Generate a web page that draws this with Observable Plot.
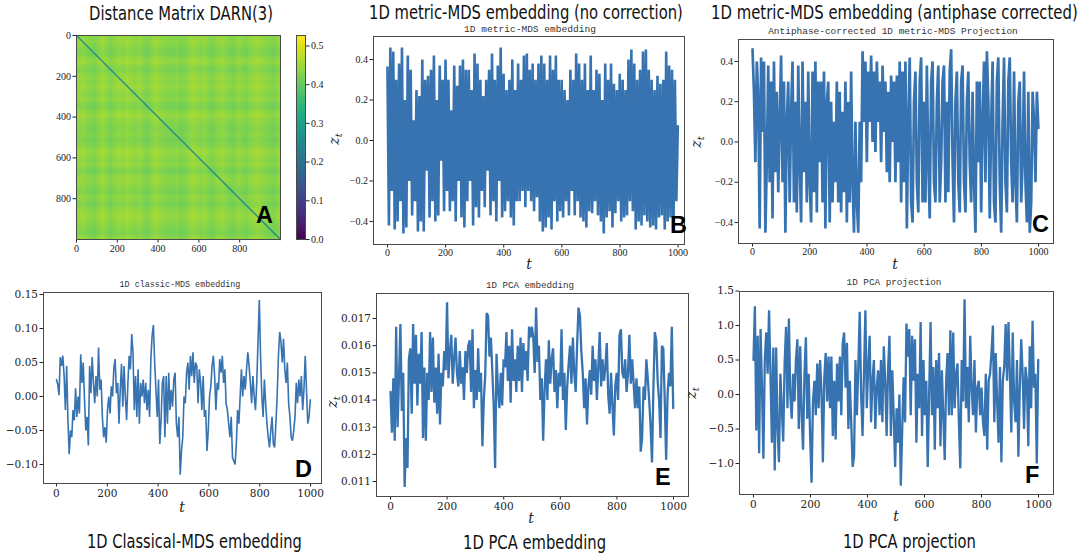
<!DOCTYPE html>
<html>
<head>
<meta charset="utf-8">
<script src="https://cdn.jsdelivr.net/npm/d3@7"></script>
<script src="https://cdn.jsdelivr.net/npm/@observablehq/plot@0.6"></script>
<style>
  html, body { margin: 0; padding: 0; background: #fff; }
  #page { position: relative; width: 1083px; height: 553px; overflow: hidden; background: #fff; }
  .panel { position: absolute; }
  #overlay { position: absolute; left: 0; top: 0; pointer-events: none; }
</style>
</head>
<body>
<div id="page"></div>
<script>
// ---------------- DATA ----------------
// Panel A: distance-matrix banding profile (one value per 20 time indices)
const distProfile = [0.44,0.45,0.43,0.42,0.41,0.44,0.46,0.43,0.41,0.44,
  0.45,0.44,0.46,0.44,0.43,0.45,0.42,0.41,0.44,0.46,
  0.44,0.43,0.42,0.42,0.43,0.41,0.42,0.44,0.46,0.45,
  0.43,0.45,0.42,0.41,0.44,0.45,0.44,0.42,0.41,0.44,
  0.43,0.41,0.44,0.45,0.46,0.44,0.43,0.42,0.41,0.44];
const diagValue = 0.25;
const diagEnds = [0, 1000];
const colorbarTicks = [0, 0.1, 0.2, 0.3, 0.4, 0.5];
const matrixTicks = [0, 200, 400, 600, 800];
const timeTicks = [0, 200, 400, 600, 800, 1000];

// Panel B: 1D metric-MDS embedding (no correction)
const zB = [0.36,-0.42,0.46,-0.25,0.44, -0.44,0.30,-0.40,0.38,-0.30,
  0.46,-0.46,0.20,-0.43,0.42, -0.20,0.35,-0.37,0.10,-0.30,
  0.25,-0.45,0.22,-0.40,0.40, -0.45,0.30,-0.15,0.32,-0.38,
  0.35,-0.30,0.42,-0.40,0.20, -0.37,0.37,-0.10,0.30,-0.35,
  0.40,-0.25,0.30,-0.35,0.15, -0.30,0.37,-0.40,0.27,-0.20,
  0.37,-0.38,0.40,-0.43,0.35, -0.30,0.35,-0.20,0.25,-0.42,
  0.43,-0.33,0.38,-0.38,0.30, -0.25,0.22,-0.33,0.30,-0.15,
  0.35,-0.37,0.43,-0.30,0.30, -0.40,0.37,-0.20,0.46,-0.38,
  0.33,-0.35,0.25,-0.30,0.30, -0.38,0.40,-0.42,0.25,-0.30,
  0.38,-0.30,0.30,-0.25,0.42, -0.33,0.43,-0.25,0.35,-0.30,
  0.38,-0.35,0.30,-0.28,0.38, -0.40,0.42,-0.45,0.38,-0.43,
  0.30,-0.38,0.42,-0.44,0.35, -0.30,0.42,-0.40,0.30,-0.35,
  0.30,-0.38,0.25,-0.30,0.20, -0.37,0.35,-0.25,0.30,-0.37,
  0.43,-0.30,0.38,-0.38,0.30, -0.40,0.38,-0.43,0.25,-0.35,
  0.42,-0.36,0.25,-0.30,0.35, -0.37,0.33,-0.40,0.20,-0.46,
  0.38,-0.38,0.30,-0.35,0.38, -0.43,0.28,-0.36,0.25,-0.30,
  0.33,-0.40,0.30,-0.38,0.25, -0.37,0.40,-0.30,0.45,-0.35,
  0.38,-0.44,0.30,-0.40,0.35, -0.42,0.44,-0.37,0.45,-0.40,
  0.35,-0.43,0.30,-0.42,0.25, -0.44,0.32,-0.38,0.28,-0.37,
  0.30,-0.44,0.44,-0.40,0.37, -0.38,0.35,-0.43,0.30,-0.30, 0.07];

// Panel C: antiphase-corrected 1D metric-MDS projection
const zC = [0.46,0.25,-0.10,0.40,0.23, -0.43,0.42,0.05,0.40,-0.45,
  -0.10,0.38,-0.20,0.30,-0.38, 0.40,-0.15,0.25,-0.25,0.10,
  0.43,-0.20,0.30,-0.45,0.10, 0.30,-0.30,0.15,0.40,-0.30,
  0.20,-0.35,0.38,-0.10,-0.40, 0.40,-0.15,0.20,-0.30,0.35,
  -0.20,-0.40,0.35,-0.25,0.40, -0.35,0.30,-0.10,0.30,-0.30,
  0.35,-0.43,0.20,0.30,-0.40, 0.20,-0.30,0.10,-0.20,0.30,
  -0.30,0.25,-0.35,0.15,-0.25, 0.30,-0.40,0.20,-0.30,0.35,
  -0.20,-0.45,0.10,-0.30,-0.45, 0.10,-0.20,0.45,0.10,0.40,
  -0.10,0.35,0.10,0.43,0.00, 0.35,-0.05,0.40,0.10,0.30,
  -0.10,0.38,0.05,0.30,-0.15, 0.25,-0.20,0.33,0.00,0.30,
  -0.20,0.33,-0.10,0.40,-0.30, 0.35,-0.20,0.40,-0.43,0.10,
  0.42,-0.30,-0.40,0.20,0.35, -0.20,-0.35,0.30,0.42,-0.30,
  0.20,-0.30,0.38,-0.10,-0.38, 0.30,0.40,-0.20,-0.30,0.20,
  0.38,-0.30,-0.10,0.30,0.38, -0.30,0.20,-0.25,0.35,0.46,
  -0.10,-0.40,0.20,0.35,-0.20, -0.35,0.30,0.38,-0.20,-0.35,
  0.20,0.35,-0.10,-0.30,0.25, -0.20,-0.45,0.30,-0.10,0.30,
  -0.35,0.10,0.40,-0.20,0.45, 0.20,-0.38,0.10,0.40,-0.30,
  -0.40,0.30,0.42,-0.20,-0.45, 0.10,0.42,-0.20,-0.35,0.30,
  0.42,-0.10,-0.30,0.35,-0.20, -0.40,0.20,0.30,-0.30,-0.10,
  0.35,-0.20,-0.40,0.25,-0.45, -0.30,0.25,0.10,-0.20,0.25, 0.07];

// Panel D: 1D classic-MDS embedding
const zD = [0.025,0.018,0.002,0.058,0.045,0.06,0.03,-0.02,0.045,-0.035,
  -0.085,-0.05,-0.06,-0.02,-0.035,0.012,-0.03,0.0,-0.025,0.062,
  0.02,0.05,-0.005,-0.05,-0.03,-0.072,0.045,0.005,0.058,0.02,
  -0.01,0.03,0.0,0.072,0.01,0.025,-0.03,-0.06,-0.045,-0.068,
  -0.02,0.0,-0.025,0.015,0.0,0.042,0.055,0.005,0.02,-0.04,
  0.01,0.048,-0.015,0.045,0.0,-0.035,0.02,0.06,0.04,0.092,
  0.065,-0.02,0.03,-0.03,0.04,-0.04,0.02,0.0,0.025,-0.01,
  0.02,-0.02,0.01,-0.03,0.055,0.09,0.105,0.05,0.01,-0.03,
  0.025,-0.07,-0.035,0.02,0.03,-0.06,0.03,-0.04,0.035,-0.02,
  0.01,-0.015,0.025,0.035,-0.04,-0.06,-0.03,-0.115,-0.08,-0.06,
  0.0,-0.01,0.035,0.05,0.01,0.06,0.03,0.065,0.02,0.05,
  0.045,-0.01,0.04,0.02,-0.02,0.03,-0.03,-0.02,-0.08,-0.05,
  0.0,0.015,0.045,0.06,0.03,-0.02,0.02,0.01,0.055,0.035,
  0.06,0.02,0.04,-0.01,-0.02,-0.04,-0.06,-0.03,-0.09,-0.095,
  -0.1,-0.07,-0.02,-0.04,0.0,0.04,0.0,0.03,0.01,0.04,
  0.065,0.045,0.02,-0.01,0.03,0.0,-0.02,0.02,0.08,0.142,
  0.06,0.0,-0.03,0.025,-0.01,-0.04,-0.06,-0.075,-0.05,-0.03,
  -0.07,-0.075,-0.04,0.0,0.06,0.095,0.08,0.05,0.085,0.04,
  0.02,0.05,-0.01,-0.03,-0.06,-0.065,-0.05,-0.03,0.02,-0.01,
  0.025,0.0,0.03,-0.02,0.01,0.06,0.01,-0.04,-0.03,-0.005];

// Panel E: 1D PCA embedding
const zE = [0.0143,0.0128,0.0148,0.0125,0.0167,0.0130,0.0148,0.0168,0.0136,0.0150,
  0.0108,0.0126,0.0115,0.0155,0.0159,0.0135,0.0168,0.0146,0.0164,0.0138,
  0.0157,0.0146,0.0165,0.0126,0.0152,0.0125,0.0150,0.0140,0.0165,0.0143,
  0.0163,0.0139,0.0152,0.0135,0.0157,0.0131,0.0150,0.0145,0.0158,0.0151,
  0.0176,0.0148,0.0158,0.0164,0.0146,0.0155,0.0163,0.0150,0.0145,0.0158,
  0.0146,0.0152,0.0140,0.0158,0.0150,0.0160,0.0162,0.0143,0.0166,0.0137,
  0.0151,0.0140,0.0159,0.0143,0.0150,0.0123,0.0140,0.0149,0.0172,0.0171,
  0.0156,0.0163,0.0151,0.0138,0.0115,0.0157,0.0144,0.0137,0.0150,0.0138,
  0.0155,0.0152,0.0165,0.0147,0.0160,0.0139,0.0166,0.0147,0.0155,0.0143,
  0.0160,0.0147,0.0163,0.0143,0.0161,0.0151,0.0158,0.0147,0.0167,0.0163,
  0.0167,0.0163,0.0150,0.0174,0.0154,0.0160,0.0140,0.0148,0.0125,0.0144,
  0.0155,0.0140,0.0162,0.0146,0.0155,0.0159,0.0143,0.0151,0.0137,0.0150,
  0.0145,0.0166,0.0140,0.0150,0.0129,0.0145,0.0153,0.0160,0.0146,0.0163,
  0.0150,0.0143,0.0160,0.0174,0.0171,0.0158,0.0150,0.0137,0.0148,0.0131,
  0.0145,0.0151,0.0142,0.0160,0.0147,0.0155,0.0140,0.0152,0.0165,0.0145,
  0.0155,0.0147,0.0152,0.0161,0.0142,0.0135,0.0150,0.0138,0.0127,0.0145,
  0.0150,0.0140,0.0164,0.0166,0.0150,0.0148,0.0155,0.0143,0.0150,0.0164,
  0.0146,0.0155,0.0146,0.0137,0.0148,0.0137,0.0145,0.0121,0.0126,0.0145,
  0.0140,0.0155,0.0148,0.0140,0.0130,0.0117,0.0145,0.0165,0.0162,0.0147,
  0.0140,0.0126,0.0160,0.0159,0.0140,0.0118,0.0142,0.0150,0.0145,0.0167, 0.0137];

// Panel F: 1D PCA projection
const zF = [0.5,1.28,-0.52,0.85,-0.85,0.95,0.1,-0.93,0.5,0.9,
  0.3,1.22,0.3,-0.7,0.68,-1.1,0.68,-0.5,-0.98,0.3,
  -0.2,-0.68,0.45,0.98,-0.2,1.1,0.0,-0.35,0.3,-0.1,
  0.5,0.8,-0.5,0.7,-0.3,-0.8,0.3,0.83,-0.35,0.3,
  -0.6,-1.28,-0.1,0.2,-0.3,0.45,-0.2,0.5,0.05,-0.98,
  0.25,0.6,-0.1,0.55,-0.2,0.55,-0.6,0.2,-0.65,0.45,
  -0.1,0.55,-0.3,0.75,0.9,0.1,0.75,-0.5,0.2,-0.4,
  -1.05,-0.9,0.5,-0.3,0.4,1.2,0.0,-0.6,0.3,1.22,
  -0.2,0.4,0.85,-0.4,0.2,0.5,-0.5,0.1,0.35,-0.3,
  0.5,-0.4,0.7,0.2,-0.6,0.35,0.85,-0.6,0.35,-0.3,
  -1.05,-0.2,-0.7,0.0,-1.32,-0.5,0.25,-0.4,1.03,0.55,
  0.95,-0.3,0.85,0.2,0.8,-0.7,0.3,-0.2,1.05,-0.6,
  0.5,-0.3,0.2,-1.05,0.0,1.05,-0.3,0.4,-0.8,0.5,
  -0.2,0.6,-0.75,0.35,-0.3,-0.95,0.2,0.6,-0.3,0.93,
  -0.3,0.9,-0.2,0.3,0.45,-0.4,-1.07,0.5,-0.1,1.38,
  -0.2,0.4,-0.4,0.85,0.1,-0.3,0.5,-0.55,0.1,0.2,
  -0.3,0.1,-0.4,-0.6,0.3,-0.8,0.2,0.3,0.6,1.0,
  -0.4,0.6,-0.1,-0.7,0.4,-0.98,0.2,0.4,1.02,0.2,
  1.05,0.3,-0.55,0.9,-0.1,-0.4,0.5,-0.9,0.1,0.8,
  0.3,-0.5,0.4,0.2,-0.75,0.7,-0.2,1.07,0.1,0.3, -1.0,0.5];

// ---------------- RENDERING ----------------
const LINE = "#3673b0";
const FRAME = "#4a4a4a";
const page = document.getElementById("page");

function place(svg, left, top, width) {
  const div = document.createElement("div");
  div.className = "panel";
  div.style.left = left + "px";
  div.style.top = top + "px";
  div.style.width = width + "px";
  div.appendChild(svg);
  page.appendChild(div);
}

function series(values) {
  const n = values.length;
  return values.map((z, i) => ({t: i * 999 / (n - 1), z}));
}

function linePanel(values, o) {
  const svg = Plot.plot({
    width: o.width, height: o.height,
    marginLeft: o.ml, marginTop: 10, marginRight: 6, marginBottom: o.mb,
    style: {fontFamily: o.font, fontSize: o.fs + "px", color: "#222", background: "transparent", overflow: "visible"},
    x: {domain: o.xdom, ticks: timeTicks, tickFormat: "d", tickSize: 3.5, tickPadding: o.tp, label: null},
    y: {domain: o.ydom, ticks: o.yticks, tickFormat: o.fmt, tickSize: 3.5, tickPadding: 2, label: null},
    marks: [
      Plot.line(series(values), {x: "t", y: "z", stroke: LINE, strokeWidth: o.sw, strokeLinejoin: "miter", strokeMiterlimit: 2}),
      Plot.frame({stroke: FRAME, strokeWidth: 1})
    ]
  });
  place(svg, o.left, o.top, o.width);
}

// Panel A: heatmap
const n = distProfile.length;
const matrix = [];
for (let i = 0; i < n; i++) for (let j = 0; j < n; j++) matrix.push((distProfile[i] + distProfile[j]) / 2);
const colorDomain = [0, 0.527];

const heat = Plot.plot({
  width: 250, height: 235, marginLeft: 40, marginTop: 10, marginRight: 6, marginBottom: 21,
  style: {fontFamily: "Liberation Serif, serif", fontSize: "10px", color: "#222", background: "transparent", overflow: "visible"},
  x: {domain: [0, 1000], ticks: matrixTicks, tickFormat: "d", tickSize: 3.5, tickPadding: 2, label: null},
  y: {domain: [0, 1000], reverse: true, ticks: matrixTicks, tickFormat: "d", tickSize: 3.5, tickPadding: 2, label: null},
  color: {type: "linear", scheme: "viridis", domain: colorDomain},
  marks: [
    Plot.raster(matrix, {width: n, height: n, x1: 0, y1: 0, x2: 1000, y2: 1000, fill: Plot.identity}),
    Plot.line(diagEnds, {x: d => d, y: d => d, stroke: () => diagValue, strokeWidth: 1.3}),
    Plot.frame({stroke: FRAME})
  ]
});
place(heat, 36, 25, 250);

const cbar = Plot.plot({
  width: 50, height: 235, marginLeft: 6, marginTop: 10, marginRight: 35, marginBottom: 21,
  style: {fontFamily: "Liberation Serif, serif", fontSize: "10px", color: "#222", background: "transparent", overflow: "visible"},
  x: {domain: [0, 1], axis: null},
  y: {domain: colorDomain, axis: "right", ticks: colorbarTicks, tickFormat: ".1f", tickSize: 3.5, tickPadding: 2, label: null},
  color: {type: "linear", scheme: "viridis", domain: colorDomain},
  marks: [
    Plot.raster({x1: 0, x2: 1, y1: colorDomain[0], y2: colorDomain[1], fill: (x, y) => y, pixelSize: 1}),
    Plot.frame({stroke: FRAME})
  ]
});
place(cbar, 290, 25, 50);

const topFont = "Liberation Serif, serif";
const botFont = "DejaVu Serif, serif";

linePanel(zB, {left: 330, top: 26, width: 360, height: 242, ml: 43, mb: 24, xdom: [-48, 1022], ydom: [-0.514, 0.514],
  yticks: [-0.4, -0.2, 0, 0.2, 0.4], fmt: ".1f", font: topFont, fs: 10, tp: 1, sw: 2.6});
linePanel(zC, {left: 690, top: 29, width: 369, height: 238, ml: 48, mb: 24, xdom: [-49, 1052], ydom: [-0.504, 0.509],
  yticks: [-0.4, -0.2, 0, 0.2, 0.4], fmt: ".1f", font: topFont, fs: 10, tp: 1, sw: 2.7});
linePanel(zD, {left: 0, top: 282, width: 327, height: 229, ml: 43, mb: 28, xdom: [-51, 1043], ydom: [-0.128, 0.153],
  yticks: [-0.10, -0.05, 0, 0.05, 0.10, 0.15], fmt: ".2f", font: botFont, fs: 10.5, tp: 3, sw: 1.6});
linePanel(zE, {left: 330, top: 283, width: 364, height: 241, ml: 46, mb: 28, xdom: [-49.5, 1053], ydom: [0.01045, 0.01792],
  yticks: [0.011, 0.012, 0.013, 0.014, 0.015, 0.016, 0.017], fmt: ".3f", font: botFont, fs: 10.5, tp: 3, sw: 2.3});
linePanel(zF, {left: 690, top: 281, width: 369, height: 241, ml: 49, mb: 28, xdom: [-49, 1052.6], ydom: [-1.449, 1.493],
  yticks: [-1, -0.5, 0, 0.5, 1, 1.5], fmt: ".1f", font: botFont, fs: 10.5, tp: 3, sw: 2.3});

// ---------------- TEXT OVERLAY ----------------
const titles = [
  {text: "Distance Matrix DARN(3)", x: 89, y: 20, len: 184},
  {text: "1D metric-MDS embedding (no correction)", x: 369, y: 19.2, len: 314},
  {text: "1D metric-MDS embedding (antiphase corrected)", x: 711, y: 19.2, len: 367},
  {text: "1D Classical-MDS embedding", x: 87, y: 548, len: 215},
  {text: "1D PCA embedding", x: 463, y: 549, len: 143},
  {text: "1D PCA projection", x: 843, y: 548, len: 133}
];
const subtitles = [
  {text: "1D metric-MDS embedding", x: 530, y: 32, len: 132},
  {text: "Antiphase-corrected 1D metric-MDS Projection", x: 893, y: 33.5, len: 250},
  {text: "1D classic-MDS embedding", x: 180, y: 287, len: 121},
  {text: "1D PCA embedding", x: 530, y: 288, len: 88},
  {text: "1D PCA projection", x: 894, y: 285, len: 95}
];
const tLabels = [{x: 529, y: 269}, {x: 895, y: 269}, {x: 182, y: 512}, {x: 531, y: 523}, {x: 896, y: 521}];
const zLabels = [{x: 339, y: 139}, {x: 701, y: 142}, {x: 337, y: 402}, {x: 696, y: 393}];
const letters = [
  {text: "A", x: 256, y: 223}, {text: "B", x: 670, y: 233}, {text: "C", x: 1032, y: 232},
  {text: "D", x: 295, y: 477}, {text: "E", x: 655, y: 485}, {text: "F", x: 1025, y: 483}
];

const ov = d3.select(page).append("svg").attr("id", "overlay").attr("width", 1083).attr("height", 553);
// big titles: measured natural width, then squeezed horizontally to the reference width
ov.selectAll("text.title").data(titles).join("text").attr("class", "title")
  .attr("x", 0).attr("y", 0)
  .attr("font-family", "'DejaVu Sans Condensed', 'Liberation Sans Narrow', 'Open Sans', sans-serif")
  .attr("font-size", 20).attr("fill", "#111").text(d => d.text)
  .each(function(d) {
    const w = this.getComputedTextLength();
    d3.select(this).attr("transform", `translate(${d.x},${d.y}) scale(${d.len / w},1)`);
  });
ov.selectAll("text.sub").data(subtitles).join("text").attr("class", "sub")
  .attr("x", d => d.x).attr("y", d => d.y).attr("text-anchor", "middle")
  .attr("font-family", "'Liberation Mono', 'DejaVu Sans Mono', monospace")
  .attr("font-size", d => d.len / (d.text.length * 0.6)).attr("fill", "#333").text(d => d.text);
ov.selectAll("text.t").data(tLabels).join("text").attr("class", "t")
  .attr("x", d => d.x).attr("y", d => d.y).attr("text-anchor", "middle")
  .attr("font-family", "'DejaVu Serif', serif").attr("font-style", "italic")
  .attr("font-size", 14).attr("fill", "#222").text("t");
const zl = ov.selectAll("text.z").data(zLabels).join("text").attr("class", "z")
  .attr("transform", d => `translate(${d.x},${d.y}) rotate(-90)`).attr("text-anchor", "middle")
  .attr("font-family", "'DejaVu Serif', serif").attr("font-style", "italic")
  .attr("font-size", 14).attr("fill", "#222");
zl.append("tspan").text("z");
zl.append("tspan").attr("dy", 3).attr("font-size", 10).text("t");
ov.selectAll("text.letter").data(letters).join("text").attr("class", "letter")
  .attr("x", d => d.x).attr("y", d => d.y)
  .attr("font-family", "'Liberation Sans', Arial, sans-serif").attr("font-weight", "bold")
  .attr("font-size", 23.5).attr("fill", "#000").text(d => d.text);
</script>
</body>
</html>
